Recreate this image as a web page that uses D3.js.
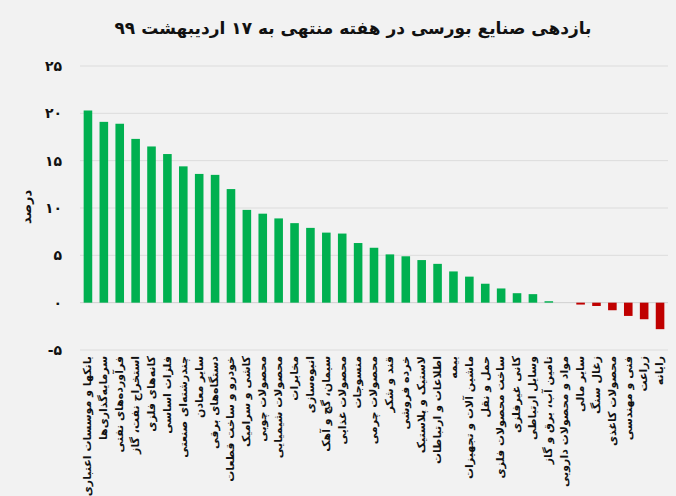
<!DOCTYPE html>
<html>
<head>
<meta charset="utf-8">
<script src="https://cdn.jsdelivr.net/npm/d3@7"></script>
<style>
  body { margin: 0; background: #f2f2f2; }
  svg { display: block; }
  text { font-family: "DejaVu Sans", sans-serif; }
</style>
</head>
<body>
<svg width="676" height="496"></svg>
<script>
const title = "بازدهی صنایع بورسی در هفته منتهی به ۱۷ اردیبهشت ۹۹";

const industries = [
    "بانکها و موسسات اعتباری", "سرمایه‌گذاری‌ها", "فرآورده‌های نفتی", "استخراج نفت، گاز",
    "کانه‌های فلزی", "فلزات اساسی", "چندرشته‌ای صنعتی", "سایر معادن",
    "دستگاه‌های برقی", "خودرو و ساخت قطعات", "کاشی و سرامیک", "محصولات چوبی",
    "محصولات شیمیایی", "مخابرات", "انبوه‌سازی", "سیمان، گچ و آهک",
    "محصولات غذایی", "منسوجات", "محصولات چرمی", "قند و شکر",
    "خرده فروشی", "لاستیک و پلاستیک", "اطلاعات و ارتباطات", "بیمه",
    "ماشین آلات و تجهیزات", "حمل و نقل", "ساخت محصولات فلزی", "کانی غیرفلزی",
    "وسایل ارتباطی", "تامین آب، برق و گاز", "مواد و محصولات دارویی", "سایر مالی",
    "زغال سنگ", "محصولات کاغذی", "فنی و مهندسی", "زراعت", "رایانه"
];

const returns = [
    20.3, 19.1, 18.9, 17.3, 16.5, 15.7, 14.4, 13.6, 13.5, 12.0,
    9.8, 9.4, 8.9, 8.4, 7.9, 7.4, 7.3, 6.3, 5.8, 5.1,
    4.9, 4.5, 4.1, 3.3, 2.75, 2.0, 1.5, 1.0, 0.9, 0.15,
    0.0, -0.2, -0.35, -0.8, -1.4, -1.75, -2.8
];

const yTicks = [-5, 0, 5, 10, 15, 20, 25];
const yTickLabels = ["-۵", "۰", "۵", "۱۰", "۱۵", "۲۰", "۲۵"];
const yTitle = "درصد";

const plot = { left: 80, right: 668, top: 66, bottom: 350 };

const svg = d3.select("svg");

svg.append("rect")
    .attr("width", 676)
    .attr("height", 496)
    .attr("fill", "#f2f2f2");

const x = d3.scaleBand()
    .domain(industries)
    .range([plot.left, plot.right])
    .paddingInner(0.46)
    .paddingOuter(0.23);

const y = d3.scaleLinear()
    .domain([-5, 25])
    .range([plot.bottom, plot.top]);

// gridlines
svg.append("g")
    .selectAll("line")
    .data(yTicks)
    .join("line")
    .attr("x1", plot.left)
    .attr("x2", plot.right)
    .attr("y1", d => y(d))
    .attr("y2", d => y(d))
    .attr("stroke", d => d === 0 ? "#d0d0d0" : "#dcdcdc")
    .attr("stroke-width", 1);

// y axis labels
const yAxis = d3.axisLeft(y)
    .tickValues(yTicks)
    .tickSize(0)
    .tickPadding(18)
    .tickFormat((d, i) => yTickLabels[i]);

svg.append("g")
    .attr("transform", `translate(${plot.left},0)`)
    .call(yAxis)
    .call(g => g.select(".domain").remove())
    .selectAll("text")
    .attr("font-size", 14)
    .attr("font-weight", "bold")
    .attr("fill", "#111");

// bars
svg.append("g")
    .selectAll("rect")
    .data(returns)
    .join("rect")
    .attr("x", (d, i) => x(industries[i]))
    .attr("width", x.bandwidth())
    .attr("y", d => y(Math.max(0, d)))
    .attr("height", d => Math.abs(y(d) - y(0)))
    .attr("fill", d => d >= 0 ? "#00b050" : "#c00000");

// x labels, rotated, hanging below the plot
const xAxis = d3.axisBottom(x).tickSize(0).tickPadding(0);

svg.append("g")
    .attr("transform", `translate(0,${plot.bottom})`)
    .call(xAxis)
    .call(g => g.select(".domain").remove())
    .selectAll("text")
    .attr("font-size", 11)
    .attr("font-weight", "bold")
    .attr("fill", "#111")
    .attr("text-anchor", "end")
    .attr("transform", "rotate(-90)")
    .attr("x", -6)
    .attr("y", 0)
    .attr("dy", "0.3em");

// y title
svg.append("text")
    .attr("transform", "translate(26,207) rotate(-90)")
    .attr("text-anchor", "middle")
    .attr("dy", "0.35em")
    .attr("font-size", 13)
    .attr("font-weight", "bold")
    .attr("fill", "#111")
    .text(yTitle);

// title
svg.append("text")
    .attr("x", 353)
    .attr("y", 34)
    .attr("text-anchor", "middle")
    .attr("font-size", 17)
    .attr("font-weight", "bold")
    .attr("fill", "#111")
    .text(title);
</script>
</body>
</html>
